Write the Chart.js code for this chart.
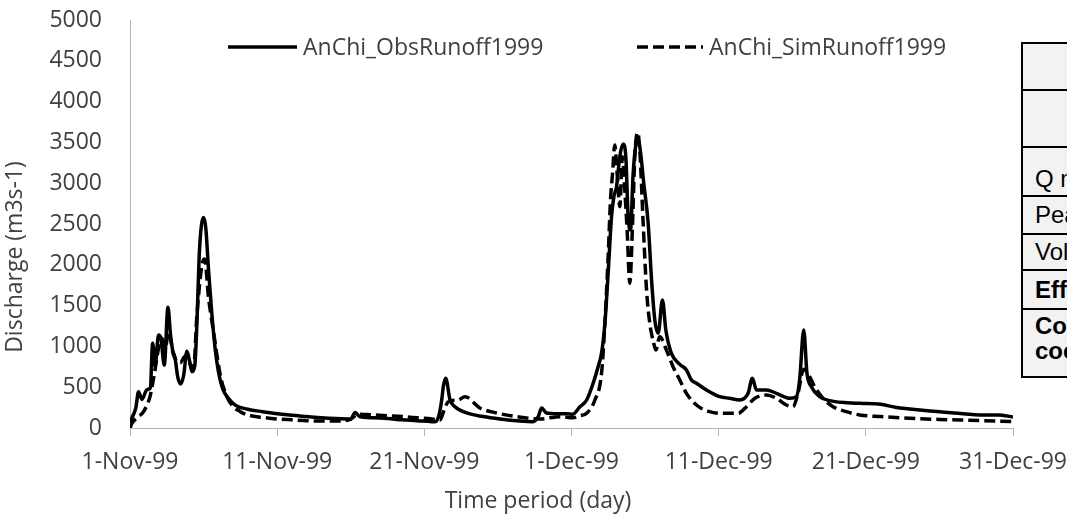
<!DOCTYPE html>
<html>
<head>
<meta charset="utf-8">
<title>AnChi runoff 1999</title>
<script src="https://cdn.jsdelivr.net/npm/chart.js@4.4.1/dist/chart.umd.min.js"></script>
<style>
  html, body { margin: 0; padding: 0; background: #fff; overflow: hidden; }
  #wrap { position: relative; width: 1067px; height: 519px; overflow: hidden; }
  #stats {
    position: absolute; left: 1021px; top: 42px; width: 340px;
    border: 2px solid #000; background: #f2f2f2; box-sizing: border-box;
    font-family: "Liberation Sans", Arial, sans-serif; font-size: 24px; color: #000;
  }
  #stats div { box-sizing: border-box; padding-left: 12px; white-space: nowrap; }
  #stats div + div { border-top: 2px solid #000; }
  #stats .mid { display: flex; align-items: center; }
  #stats .low { display: flex; align-items: flex-end; padding-bottom: 2px; }
  #stats .b { font-weight: bold; }
</style>
</head>
<body>
<div id="wrap">
  <canvas id="runoffChart" width="1067" height="519"></canvas>
  <div id="stats">
    <div style="height:45px"></div>
    <div style="height:57px"></div>
    <div class="low" style="height:49px">Q max (m3/s)</div>
    <div class="mid" style="height:38px">Peak time</div>
    <div class="mid" style="height:36px">Volume</div>
    <div class="mid b" style="height:39px">Efficiency</div>
    <div class="b" style="height:68px; line-height:25px; padding-top:3px">Correlation<br>coefficient</div>
  </div>
</div>
<script>
// day offsets from 1-Nov-99 and discharge (m3/s)
const obsDays = [0, 0.2, 0.4, 0.58, 0.81, 1.15, 1.38, 1.54, 1.7, 1.94, 2.1, 2.33, 2.58, 2.75, 2.9, 3.05,
  3.25, 3.45, 3.65, 3.87, 4.05, 4.21, 4.4, 4.55, 4.7, 4.85, 5.0, 5.15, 5.35, 5.57, 5.8, 6.01, 6.3, 6.7,
  7.15, 8, 9, 10, 11, 12, 13, 14, 15, 15.3, 15.6, 16.5, 17.5, 18.5, 19.5, 20.5, 20.73, 21.0, 21.18,
  21.3, 21.45, 21.75, 22.08, 22.88, 24, 25.14, 26.5, 27.38, 27.74, 27.97, 28.3, 29, 29.67, 30.1, 30.57,
  31.03, 31.47, 31.81, 32.04, 32.27, 32.49, 32.72, 32.88, 33.06, 33.28, 33.51, 33.69, 33.85, 34.01,
  34.19, 34.46, 34.64, 34.91, 35.21, 35.44, 35.66, 35.89, 36.18, 36.41, 36.79, 37.36, 37.81, 38.15,
  38.49, 39.17, 40.07, 40.75, 41.43, 42.0, 42.29, 42.57, 43.25, 43.92, 44.83, 45.28, 45.5, 45.78,
  46.0, 46.3, 46.86, 47.54, 49.58, 51, 52, 54, 56, 58, 59, 60];
const obsFlow = [70, 150, 250, 445, 350, 470, 490, 1040, 760, 1140, 1100, 770, 1480, 1150, 950, 870,
  620, 540, 650, 940, 820, 690, 760, 1300, 2100, 2480, 2580, 2450, 1900, 1380, 950, 690, 480, 360,
  280, 230, 200, 175, 155, 140, 125, 115, 110, 190, 140, 125, 115, 100, 90, 78, 77, 160, 343,
  520, 610, 343, 261, 184, 140, 110, 85, 77, 139, 245, 184, 175, 175, 170, 260,
  343, 548, 751, 915, 1283, 1896, 2590, 2835, 2957, 3325, 3480, 3325, 2590, 2426,
  3121, 3520, 3447, 2999, 2509, 1814, 1324, 1160, 1569, 1201, 915, 780, 711, 588,
  548, 466, 384, 364, 343, 425, 609, 466, 466, 425, 364, 384, 588, 1200,
  670, 506, 384, 335, 303, 290, 255, 215, 185, 160, 160, 135];

const simDays = [0, 0.14, 0.5, 0.92, 1.38, 1.72, 1.94, 2.17, 2.4, 2.62, 2.96, 3.41, 3.75, 4.1, 4.32,
  4.55, 4.89, 5.07, 5.34, 5.68, 6.13, 6.5, 6.92, 7.5, 8, 9, 10, 11, 12, 13, 14, 15, 15.5, 16.5, 17.5,
  18.5, 19.5, 20.5, 21.07, 21.3, 21.63, 22.3, 22.76, 23.78, 24.92, 26.27, 27.85, 29.2, 30.11, 30.57,
  31.03, 31.59, 32.04, 32.27, 32.49, 32.65, 32.79, 32.94, 33.1, 33.28, 33.46, 33.62, 33.78, 33.96,
  34.15, 34.3, 34.5, 34.64, 34.87, 35.1, 35.32, 35.59, 35.73, 35.99, 36.45, 36.9, 37.36, 37.81, 38.49,
  39.38, 40.3, 41.32, 41.89, 42.46, 43.25, 43.92, 44.6, 45.05, 45.39, 45.78, 46.18, 46.52, 47.09,
  47.77, 48.68, 49.58, 51, 53, 55, 57, 59, 60];
const simFlow = [0, 60, 130, 200, 400, 735, 980, 1100, 980, 1180, 895, 800, 880, 780, 735,
  1385, 1998, 2070, 1593, 1176, 650, 420, 282, 200, 160, 130, 110, 100, 90, 85, 85, 110, 170, 160, 150,
  140, 125, 110, 98, 200, 322, 343, 384, 245, 184, 139, 110, 139, 125, 150,
  180, 343, 670, 1287, 2100, 2794, 3121, 3468, 3121, 2712, 3325, 2917, 2426, 1773,
  2509, 3325, 3620, 3407, 2509, 1691, 1283, 1038, 956, 1119, 956, 751, 588, 425, 282,
  200, 180, 180, 261, 364, 404, 364, 282, 261, 425, 720, 629, 506, 364,
  261, 200, 160, 140, 120, 105, 95, 85, 80];

const dateLabels = ['1-Nov-99', '11-Nov-99', '21-Nov-99', '1-Dec-99', '11-Dec-99', '21-Dec-99', '31-Dec-99'];
const seriesNames = ['AnChi_ObsRunoff1999', 'AnChi_SimRunoff1999'];

const textColor = '#404040';
const axisColor = '#b4b4b4';

Chart.defaults.font.family = '"Open Sans", sans-serif';
Chart.defaults.font.size = 23;
Chart.defaults.color = textColor;

// legend and axis titles sit where Excel put them, not where Chart.js would
const overlayText = {
  id: 'overlayText',
  afterDraw(chart) {
    const ctx = chart.ctx;
    const spots = [{ x0: 228, x1: 297, y: 47 }, { x0: 637, x1: 703, y: 47 }];
    ctx.save();
    ctx.font = '23px "Open Sans"';
    ctx.fillStyle = textColor;
    ctx.textBaseline = 'middle';
    spots.forEach((s, i) => {
      const ds = chart.data.datasets[i];
      ctx.strokeStyle = ds.borderColor;
      ctx.lineWidth = ds.borderWidth;
      ctx.setLineDash(ds.borderDash || []);
      ctx.beginPath();
      ctx.moveTo(s.x0, s.y);
      ctx.lineTo(s.x1, s.y);
      ctx.stroke();
      ctx.fillText(ds.label, s.x1 + 6, s.y + 1);
    });
    ctx.setLineDash([]);
    ctx.textAlign = 'center';
    ctx.fillText('Time period (day)', 538, 501);
    ctx.translate(15, 257);
    ctx.rotate(-Math.PI / 2);
    ctx.fillText('Discharge (m3s-1)', 0, 0);
    ctx.restore();
  }
};

const ctx = document.getElementById('runoffChart').getContext('2d');
new Chart(ctx, {
  type: 'line',
  data: {
    datasets: [
      {
        label: seriesNames[0],
        data: obsDays.map((d, i) => ({ x: d, y: obsFlow[i] })),
        borderColor: '#000',
        borderWidth: 3.5,
        pointRadius: 0,
        cubicInterpolationMode: 'monotone',
        fill: false,
        order: 2
      },
      {
        label: seriesNames[1],
        data: simDays.map((d, i) => ({ x: d, y: simFlow[i] })),
        borderColor: '#000',
        borderWidth: 3.5,
        borderDash: [11, 5],
        pointRadius: 0,
        cubicInterpolationMode: 'monotone',
        fill: false,
        order: 1
      }
    ]
  },
  options: {
    responsive: false,
    animation: false,
    devicePixelRatio: 1,
    layout: { padding: { left: 0, top: 20, right: 54, bottom: 0 } },
    plugins: {
      legend: { display: false },
      tooltip: { enabled: false }
    },
    scales: {
      x: {
        type: 'linear',
        min: 0,
        max: 60,
        afterFit: s => { s.height = 91; s.paddingLeft = 0; s.paddingRight = 0; },
        grid: { drawOnChartArea: false, drawTicks: true, tickLength: 8, color: axisColor },
        border: { display: true, color: axisColor },
        ticks: {
          stepSize: 10,
          padding: 13,
          maxRotation: 0,
          autoSkip: false,
          callback: v => dateLabels[v / 10]
        }
      },
      y: {
        min: 0,
        max: 5000,
        afterFit: s => { s.width = 130; s.paddingTop = 0; s.paddingBottom = 0; },
        grid: { drawOnChartArea: false, drawTicks: false, color: axisColor },
        border: { display: true, color: axisColor },
        ticks: { stepSize: 500, padding: 28, callback: v => String(v) }
      }
    }
  },
  plugins: [overlayText]
});
</script>
</body>
</html>
